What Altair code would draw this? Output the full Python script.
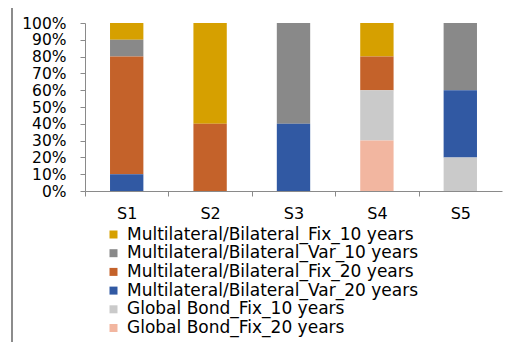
import altair as alt
import pandas as pd

scenarios = ["S1", "S2", "S3", "S4", "S5"]
series = [
    "Multilateral/Bilateral_Fix_10 years",
    "Multilateral/Bilateral_Var_10 years",
    "Multilateral/Bilateral_Fix_20 years",
    "Multilateral/Bilateral_Var_20 years",
    "Global Bond_Fix_10 years",
    "Global Bond_Fix_20 years",
]
colors = ["#D6A000", "#898989", "#C4622A", "#3159A3", "#CACACA", "#F2B6A0"]
# stack position from bottom (0) to top
stack_rank = [5, 4, 3, 2, 1, 0]

fix10 = [10, 60, 0, 20, 0]
var10 = [10, 0, 60, 0, 40]
fix20 = [70, 40, 0, 20, 0]
var20 = [10, 0, 40, 0, 40]
gb10 = [0, 0, 0, 30, 20]
gb20 = [0, 0, 0, 30, 0]
values = [fix10, var10, fix20, var20, gb10, gb20]

rows = []
for s, vals, r in zip(series, values, stack_rank):
    for sc, v in zip(scenarios, vals):
        rows.append({"Scenario": sc, "Series": s, "Share": v / 100.0, "rank": r})
df = pd.DataFrame(rows)

FONT = "DejaVu Sans"
step = 417 / 5

bars = alt.Chart(df).mark_bar(width=alt.RelativeBandSize(0.4)).encode(
    x=alt.X("Scenario:N", sort=scenarios, title=None,
            scale=alt.Scale(paddingInner=0, paddingOuter=0),
            axis=alt.Axis(labelAngle=0, tickOffset=-step / 2, labelOffset=step / 2,
                          domainColor="#8A8A8A", tickColor="#8A8A8A", tickSize=5,
                          labelFontSize=16, labelFont=FONT, labelColor="#000000",
                          labelPadding=9)),
    y=alt.Y("Share:Q", stack="zero", title=None,
            scale=alt.Scale(domain=[0, 1]),
            axis=alt.Axis(format=".0%", values=[i / 10 for i in range(11)], grid=False,
                          domainColor="#8A8A8A", tickColor="#8A8A8A", tickSize=5,
                          labelFontSize=15.5, labelFont=FONT, labelColor="#000000",
                          labelPadding=14, labelOverlap=False)),
    color=alt.Color("Series:N", sort=series,
                    scale=alt.Scale(domain=series, range=colors),
                    legend=alt.Legend(title=None, orient="none", legendX=20, legendY=203,
                                      symbolType="square", symbolSize=64,
                                      symbolStrokeWidth=0, labelFontSize=17,
                                      labelFont=FONT, labelColor="#000000",
                                      rowPadding=0.7, labelLimit=400, labelOffset=5)),
    order=alt.Order("rank:Q", sort="ascending"),
)

frame = alt.Chart(pd.DataFrame({"a": [0]})).mark_rule(color="#8C8C8C", strokeWidth=2).encode(
    x=alt.value(-73), x2=alt.value(-73), y=alt.value(-19), y2=alt.value(345)
)
frame_top = alt.Chart(pd.DataFrame({"a": [0]})).mark_rule(color="#8C8C8C", strokeWidth=2).encode(
    x=alt.value(-73), x2=alt.value(440), y=alt.value(-19), y2=alt.value(-19)
)

chart = alt.layer(bars, frame, frame_top).properties(
    width=417, height=168,
    autosize=alt.AutoSizeParams(type="none"),
    padding={"left": 77, "top": 15, "right": 11, "bottom": 151},
).configure_view(stroke=None)

chart.save("out.html", embed_options={"renderer": "svg", "actions": False})
